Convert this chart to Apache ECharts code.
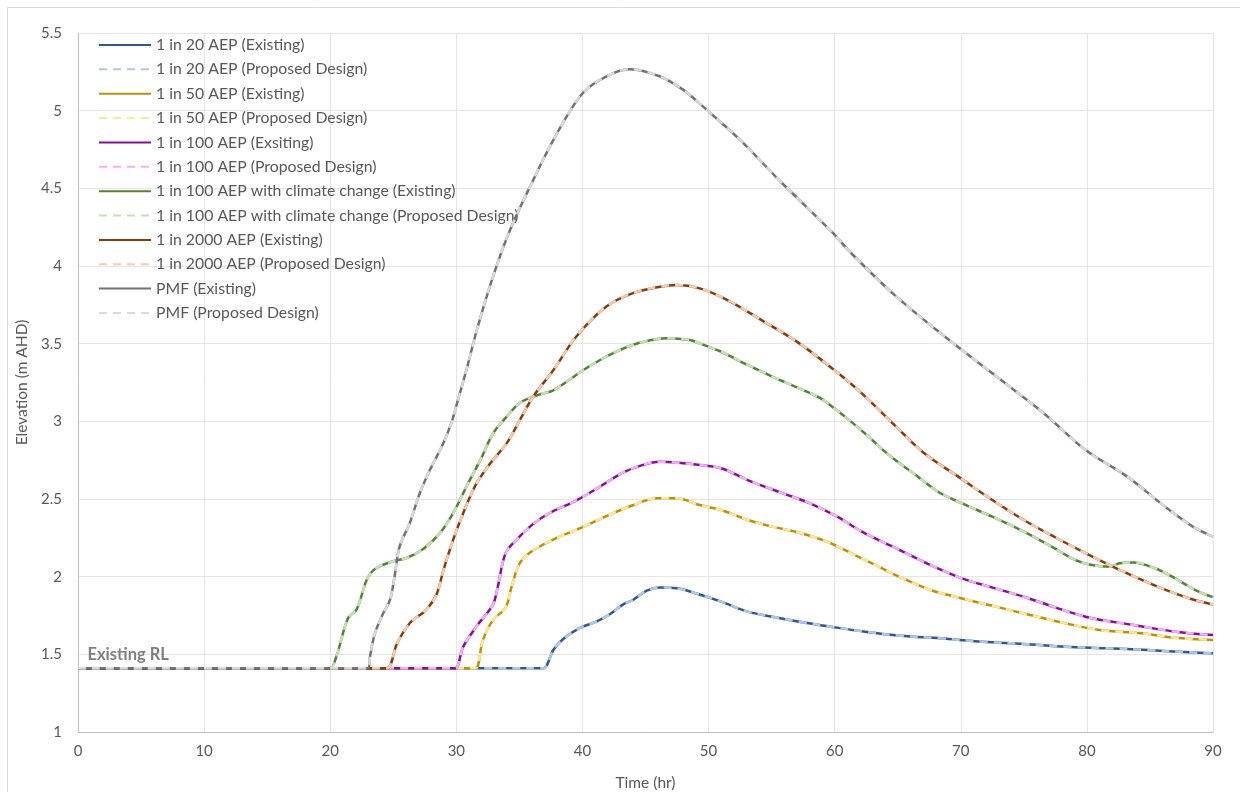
<!DOCTYPE html>
<html>
<head>
<meta charset="utf-8">
<script src="https://cdn.jsdelivr.net/npm/echarts@6/dist/echarts.min.js"></script>
<style>
  html, body { margin: 0; padding: 0; background: #ffffff; }
  #chart { width: 1240px; height: 802px; }
</style>
</head>
<body>
<div id="chart"></div>
<script>
// ---- Data (time in hr, elevation in m AHD) ----
const xTicks = [0, 10, 20, 30, 40, 50, 60, 70, 80, 90];
const yTicks = [1, 1.5, 2, 2.5, 3, 3.5, 4, 4.5, 5, 5.5];
const existingRL = 1.41;

const t20 = [0, 36, 36.9, 37.7, 38.5, 39.8, 41.1, 42.2, 43.2, 44.0, 45.1, 46.15, 47.5, 49.1, 51.0, 53.1, 55.05, 57.2, 59.7, 62.4, 65.2, 68.4, 71.7, 75.0, 78.3, 81.5, 84.8, 88.1, 90];
const v20 = [1.41, 1.41, 1.41, 1.53, 1.60, 1.67, 1.71, 1.76, 1.82, 1.85, 1.91, 1.93, 1.925, 1.89, 1.839, 1.775, 1.742, 1.71, 1.678, 1.646, 1.62, 1.603, 1.581, 1.567, 1.549, 1.539, 1.528, 1.513, 1.507];

const t50 = [0, 30.5, 31.5, 32.1, 32.9, 33.9, 34.4, 35.05, 36.1, 37.96, 40.07, 41.9, 44.0, 45.9, 47.5, 49.3, 51.0, 53.1, 55.05, 57.2, 59.4, 61.6, 63.5, 65.4, 67.6, 70.1, 72.8, 75.5, 78.3, 81.0, 84.3, 87.0, 90];
const v50 = [1.41, 1.41, 1.41, 1.59, 1.72, 1.80, 1.94, 2.09, 2.17, 2.25, 2.32, 2.39, 2.46, 2.505, 2.505, 2.461, 2.429, 2.365, 2.322, 2.283, 2.225, 2.139, 2.064, 1.989, 1.914, 1.86, 1.807, 1.753, 1.70, 1.657, 1.635, 1.607, 1.592];

const t100 = [0, 29, 29.9, 30.55, 31.6, 32.9, 33.3, 33.9, 34.8, 36.1, 37.4, 39.5, 41.4, 43.2, 44.8, 46.15, 48.0, 49.3, 51.0, 53.1, 55.9, 58.05, 60.2, 62.15, 64.6, 67.3, 70.1, 72.25, 75.0, 77.7, 80.4, 83.7, 87.0, 90];
const v100 = [1.41, 1.41, 1.41, 1.55, 1.68, 1.82, 1.94, 2.15, 2.24, 2.34, 2.41, 2.49, 2.58, 2.67, 2.72, 2.74, 2.73, 2.719, 2.698, 2.622, 2.536, 2.472, 2.386, 2.29, 2.193, 2.086, 1.989, 1.936, 1.871, 1.796, 1.732, 1.689, 1.646, 1.624];

const tCC = [0, 19, 20.0, 20.5, 21.4, 22.1, 22.9, 23.55, 25.0, 26.06, 27.4, 28.7, 29.76, 30.8, 31.9, 32.9, 34.0, 35.05, 36.5, 37.7, 38.75, 40.07, 41.4, 43.0, 44.6, 46.7, 48.5, 49.3, 51.0, 53.1, 55.05, 57.2, 58.9, 59.97, 61.3, 62.7, 64.3, 66.25, 68.2, 70.1, 72.5, 75.0, 77.2, 79.1, 80.4, 81.8, 82.6, 83.7, 85.4, 87.0, 88.6, 90];
const vCC = [1.41, 1.41, 1.41, 1.49, 1.73, 1.79, 1.98, 2.05, 2.10, 2.12, 2.18, 2.28, 2.41, 2.58, 2.75, 2.92, 3.03, 3.12, 3.17, 3.20, 3.255, 3.33, 3.395, 3.46, 3.507, 3.535, 3.524, 3.502, 3.448, 3.363, 3.288, 3.212, 3.148, 3.084, 2.998, 2.901, 2.783, 2.665, 2.547, 2.472, 2.386, 2.29, 2.193, 2.107, 2.075, 2.064, 2.086, 2.092, 2.054, 1.989, 1.914, 1.868];

const t2000 = [0, 23.5, 24.5, 25.3, 26.3, 27.65, 28.45, 28.97, 29.76, 30.55, 31.6, 32.7, 34.0, 35.05, 36.1, 37.7, 39.5, 41.9, 44.0, 46.15, 47.5, 49.3, 51.5, 54.2, 57.0, 59.97, 62.15, 64.6, 67.1, 69.8, 72.5, 75.0, 77.4, 80.2, 82.9, 85.6, 88.1, 90];
const v2000 = [1.41, 1.41, 1.41, 1.57, 1.70, 1.79, 1.89, 2.04, 2.24, 2.41, 2.60, 2.73, 2.86, 3.01, 3.16, 3.33, 3.545, 3.739, 3.825, 3.867, 3.878, 3.856, 3.781, 3.652, 3.513, 3.33, 3.18, 2.987, 2.794, 2.644, 2.494, 2.365, 2.257, 2.139, 2.032, 1.936, 1.861, 1.82];

const tPMF = [0, 22, 23.0, 23.15, 23.55, 24.2, 24.74, 25.1, 25.5, 26.3, 27.1, 27.9, 28.97, 29.6, 30.0, 30.8, 31.6, 32.9, 34.26, 36.1, 37.7, 39.8, 41.4, 43.8, 46.15, 48.0, 49.3, 52.5, 55.7, 59.9, 61.06, 64.6, 68.4, 72.5, 76.6, 79.9, 83.2, 86.2, 88.4, 90];
const vPMF = [1.41, 1.41, 1.41, 1.485, 1.636, 1.764, 1.85, 2.0, 2.193, 2.344, 2.537, 2.687, 2.859, 2.988, 3.10, 3.331, 3.58, 3.93, 4.232, 4.554, 4.812, 5.091, 5.198, 5.267, 5.22, 5.134, 5.045, 4.812, 4.544, 4.21, 4.103, 3.824, 3.567, 3.309, 3.051, 2.815, 2.644, 2.45, 2.322, 2.258];

const seriesNames = [
  '1 in 20 AEP (Existing)', '1 in 20 AEP (Proposed Design)',
  '1 in 50 AEP (Existing)', '1 in 50 AEP (Proposed Design)',
  '1 in 100 AEP (Exsiting)', '1 in 100 AEP (Proposed Design)',
  '1 in 100 AEP with climate change (Existing)', '1 in 100 AEP with climate change (Proposed Design)',
  '1 in 2000 AEP (Existing)', '1 in 2000 AEP (Proposed Design)',
  'PMF (Existing)', 'PMF (Proposed Design)'
];
const seriesColors = [
  '#2F5597', '#B4C7E7',
  '#BF9000', '#FFE699',
  '#8B0A9B', '#F2B0F8',
  '#548235', '#C5E0B4',
  '#843C0C', '#F8CBAD',
  '#767171', '#D9D9D9'
];
const seriesT = [t20, t20, t50, t50, t100, t100, tCC, tCC, t2000, t2000, tPMF, tPMF];
const seriesV = [v20, v20, v50, v50, v100, v100, vCC, vCC, v2000, v2000, vPMF, vPMF];

function zip(t, v) { return t.map((x, i) => [x, v[i]]); }

const series = seriesNames.map((name, i) => {
  const proposed = i % 2 === 1;
  const s = {
    name: name,
    type: 'line',
    data: zip(seriesT[i], seriesV[i]),
    smooth: 0.35,
    symbol: 'none',
    showSymbol: false,
    color: seriesColors[i],
    lineStyle: {
      width: 2.5,
      color: seriesColors[i],
      type: proposed ? [8, 6] : 'solid'
    },
    emphasis: { disabled: true },
    silent: true,
    z: 2 + i
  };
  if (i === seriesNames.length - 1) {
    s.markPoint = {
      silent: true,
      symbol: 'circle',
      symbolSize: 1,
      itemStyle: { color: 'rgba(0,0,0,0)' },
      data: [{
        coord: [0, existingRL],
        label: {
          show: true,
          formatter: 'Existing RL',
          position: 'right',
          offset: [4, -14],
          color: '#7F7F7F',
          fontFamily: 'Lato',
          fontWeight: 'bold',
          fontSize: 16.5
        }
      }]
    };
  }
  return s;
});

const chart = echarts.init(document.getElementById('chart'), null, { renderer: 'canvas' });
chart.setOption({
  animation: false,
  backgroundColor: '#ffffff',
  textStyle: { fontFamily: 'Lato' },
  graphic: [{
    type: 'polyline',
    shape: { points: [[7.5, 792], [7.5, 7.5], [1240, 7.5]] },
    style: { stroke: '#D9D9D9', lineWidth: 1, fill: null },
    silent: true
  }],
  grid: { left: 78, right: 27, top: 33, bottom: 70, containLabel: false },
  legend: {
    orient: 'vertical',
    left: 93,
    top: 32,
    itemWidth: 52,
    itemHeight: 16,
    itemGap: 8.36,
    itemStyle: { opacity: 0 },
    textStyle: { color: '#595959', fontSize: 15.8, fontFamily: 'Lato' },
    data: seriesNames,
    selectedMode: false
  },
  xAxis: {
    type: 'value',
    min: xTicks[0],
    max: xTicks[xTicks.length - 1],
    interval: 10,
    name: 'Time (hr)',
    nameLocation: 'middle',
    nameGap: 43,
    nameTextStyle: { color: '#595959', fontSize: 15.5, fontFamily: 'Lato' },
    axisLine: { show: true, lineStyle: { color: '#BFBFBF', width: 1 } },
    axisTick: { show: false },
    axisLabel: { color: '#595959', fontSize: 15, margin: 12, fontFamily: 'Lato' },
    splitLine: { show: true, lineStyle: { color: '#E6E6E6', width: 1 } }
  },
  yAxis: {
    type: 'value',
    min: yTicks[0],
    max: yTicks[yTicks.length - 1],
    interval: 0.5,
    name: 'Elevation (m AHD)',
    nameLocation: 'middle',
    nameGap: 47,
    nameRotate: 90,
    nameTextStyle: { color: '#595959', fontSize: 15.5, fontFamily: 'Lato' },
    axisLine: { show: true, lineStyle: { color: '#BFBFBF', width: 1 } },
    axisTick: { show: false },
    axisLabel: { color: '#595959', fontSize: 15, margin: 16, fontFamily: 'Lato' },
    splitLine: { show: true, lineStyle: { color: '#E6E6E6', width: 1 } }
  },
  series: series
});
</script>
</body>
</html>
